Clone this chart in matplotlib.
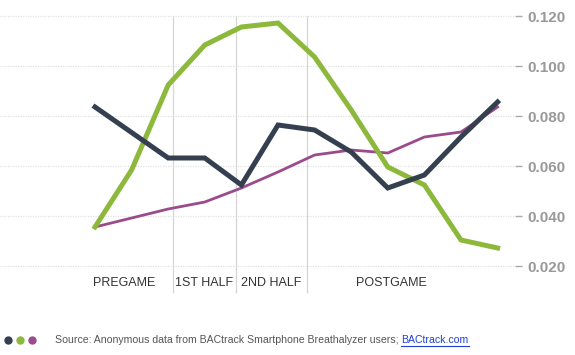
import matplotlib.pyplot as plt
from matplotlib.lines import Line2D
import numpy as np

# readings per time slot (12 slots across the game)
dark_vals = [0.0836, 0.0734, 0.0632, 0.0632, 0.0524, 0.0764, 0.0744, 0.0656, 0.0512, 0.0564, 0.0716, 0.0856]
green_vals = [0.0356, 0.0584, 0.0924, 0.1084, 0.1156, 0.1172, 0.1036, 0.0824, 0.0596, 0.0524, 0.0304, 0.0272]
purple_vals = [0.0356, 0.0392, 0.0428, 0.0456, 0.0512, 0.0576, 0.0644, 0.0664, 0.0652, 0.0716, 0.0736, 0.0836]

phase_labels = ["PREGAME", "1ST HALF", "2ND HALF", "POSTGAME"]
phase_label_pos = [0.79, 2.98, 4.81, 8.11]
phase_breaks = [2.13, 3.85, 5.79]
yticks = [0.020, 0.040, 0.060, 0.080, 0.100, 0.120]

c_dark = "#34404f"
c_green = "#8cb83b"
c_purple = "#9b4b8c"

W, H = 575, 355
fig = plt.figure(figsize=(W / 100, H / 100), dpi=100)
plt.rcParams["font.family"] = ["Liberation Sans", "DejaVu Sans"]

# axes box in pixels: x 0..515, y 10..295 (from top)
ax = fig.add_axes([0, 1 - 295 / H, 515 / W, 285 / H])
x = np.arange(len(dark_vals))
ax.set_xlim(-95 / 36.6, (515 - 95) / 36.6)
ax.set_ylim(0.020 - 29 / 2500, 0.120 + 6 / 2500)

for yv in yticks:
    ax.axhline(yv, color="#e2e2e2", lw=0.9, ls=(0, (1, 1)), zorder=1)
ax.vlines(phase_breaks, 0.020 - 27 / 2500, 0.120, color="#d6d6d6", lw=0.9, zorder=1)

ax.plot(x, purple_vals, color=c_purple, lw=2.0, solid_joinstyle="miter", zorder=3)
ax.plot(x, green_vals, color=c_green, lw=3.6, solid_joinstyle="miter", zorder=4)
ax.plot(x, dark_vals, color=c_dark, lw=3.6, solid_joinstyle="miter", zorder=5)

for lab, p in zip(phase_labels, phase_label_pos):
    ax.text(p, 0.020 - 17 / 2500, lab, ha="center", va="center", fontsize=9, color="#333333")

for s in ax.spines.values():
    s.set_visible(False)
ax.set_xticks([])
ax.yaxis.tick_right()
ax.set_yticks(yticks)
ax.set_yticklabels(["%.3f" % v for v in yticks])
ax.tick_params(axis="y", length=5, width=1, color="#aaaaaa", pad=4,
               labelsize=11, labelcolor="#999999")
for t in ax.get_yticklabels():
    t.set_fontweight("bold")

# footer
for i, c in enumerate([c_dark, c_green, c_purple]):
    fig.add_artist(Line2D([(8 + 12 * i) / W], [1 - 340 / H], marker="o", markersize=5,
                          color=c, transform=fig.transFigure))
src = fig.text(55 / W, 1 - 340 / H, "Source: Anonymous data from BACtrack Smartphone Breathalyzer users; ",
               fontsize=7.6, color="#555555", va="center", ha="left")
fig.canvas.draw()
bb = src.get_window_extent()
lx = bb.x1 / fig.bbox.width
link = fig.text(lx, 1 - 340 / H, "BACtrack.com", fontsize=7.6, color="#1f3fd8", va="center", ha="left")
fig.canvas.draw()
lb = link.get_window_extent()
fig.add_artist(Line2D([lb.x0 / fig.bbox.width, lb.x1 / fig.bbox.width],
                      [(lb.y0 - 0.5) / fig.bbox.height] * 2, color="#1f3fd8", lw=0.8,
                      transform=fig.transFigure))

fig.savefig("out.png", dpi=100)
